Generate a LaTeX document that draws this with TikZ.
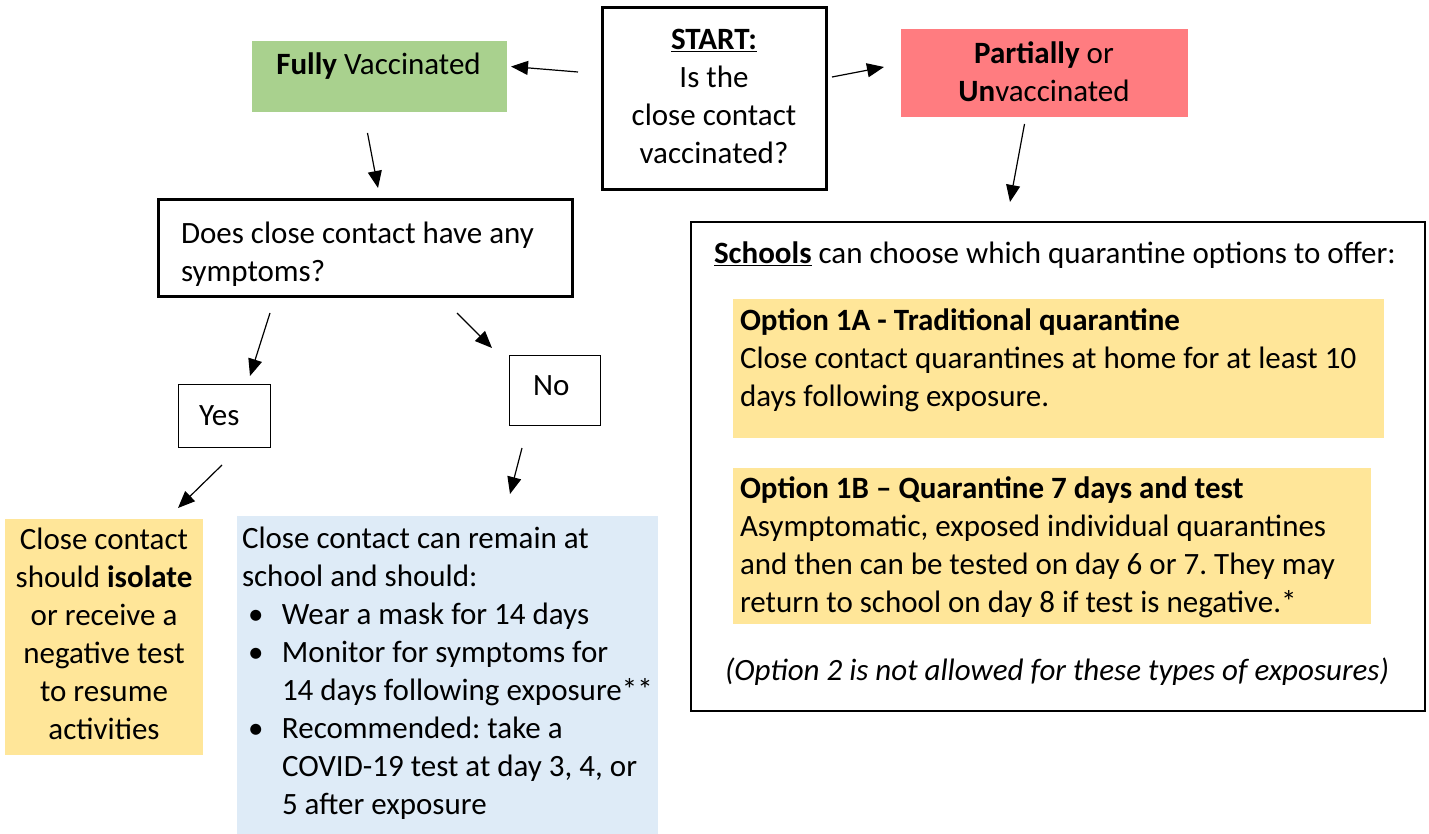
\documentclass[tikz,border=0pt]{standalone}
\usepackage{fontspec}
\setmainfont{Carlito}
\usetikzlibrary{arrows.meta}
\definecolor{vgreen}{HTML}{A9D18E}
\definecolor{vred}{HTML}{FF7C80}
\definecolor{vyellow}{HTML}{FFE699}
\definecolor{vblue}{HTML}{DEEBF7}
\newcommand\mystrut{\rule{0pt}{28pt}}
\frenchspacing
\begin{document}
\begin{tikzpicture}[x=1pt,y=-1pt,
  every node/.style={inner sep=0pt,outer sep=0pt,font=\fontsize{31}{38}\selectfont\frenchspacing},
  box/.style={anchor=north west,inner sep=0pt,outer sep=0pt},
  thickbox/.style={box,draw=black,line width=3pt},
  thinbox/.style={box,draw=black,line width=1pt},
  arr/.style={line width=1.2pt,-{Triangle[length=17pt,width=14pt]}},
  txt/.style={anchor=north west,align=left},
  ctxt/.style={anchor=north,align=center}]
\useasboundingbox (0,0) rectangle (1429,834);
% boxes
\node[thickbox,minimum width=224pt,minimum height=182pt] (start) at (602,8) {};
\node[box,fill=vgreen,minimum width=255pt,minimum height=71pt] (fully) at (252,41) {};
\node[box,fill=vred,minimum width=287pt,minimum height=88pt] (partial) at (901,29) {};
\node[thickbox,minimum width=414pt,minimum height=96pt] (does) at (158,200) {};
\node[thinbox,minimum width=92pt,minimum height=63pt] (yes) at (178,384) {};
\node[thinbox,minimum width=91pt,minimum height=70pt] (no) at (509,355) {};
\node[box,fill=vyellow,minimum width=198pt,minimum height=236pt] (iso) at (5,519) {};
\node[box,fill=vblue,minimum width=421pt,minimum height=320pt] (stay) at (237,516) {};
\node[box,draw=black,line width=1.5pt,minimum width=734pt,minimum height=489pt] (schools) at (691,222) {};
\node[box,fill=vyellow,minimum width=651pt,minimum height=139pt] (opta) at (733,299) {};
\node[box,fill=vyellow,minimum width=638pt,minimum height=156pt] (optb) at (733,468) {};
% texts
\node[ctxt] (startT) at (714,22) {\mystrut\underline{\textbf{START:}}\\Is the\\close contact\\vaccinated?};
\node[ctxt] (fullyT) at (378.5,47) {\mystrut\textbf{Fully} Vaccinated};
\node[ctxt] (partialT) at (1044,36) {\mystrut\textbf{Partially} or\\\textbf{Un}vaccinated};
\node[txt] (doesT) at (181,216) {\mystrut Does close contact have any\\symptoms?};
\node[txt] (yesT) at (199,397) {\mystrut Yes};
\node[txt] (noT) at (533,367) {\mystrut No};
\node[ctxt] (isoT) at (104,521) {\mystrut Close contact\\should \textbf{isolate}\\or receive a\\negative test\\to resume\\activities};
\node[txt] (stayT) at (242,520) {\mystrut Close contact can remain at\\school and should:\\
\makebox[40pt][l]{\hspace{6pt}\textbullet}Wear a mask for 14 days\\
\makebox[40pt][l]{\hspace{6pt}\textbullet}Monitor for symptoms for\\
\hspace*{40pt}14 days following exposure**\\
\makebox[40pt][l]{\hspace{6pt}\textbullet}Recommended: take a\\
\hspace*{40pt}COVID-19 test at day 3, 4, or\\
\hspace*{40pt}5 after exposure};
\node[txt] (schoolsT) at (714,236) {\mystrut\underline{\textbf{Schools}} can choose which quarantine options to offer:};
\node[txt] (optaT) at (740,302) {\mystrut\textbf{Option 1A - Traditional quarantine}\\Close contact quarantines at home for at least 10\\days following exposure.};
\node[txt] (optbT) at (740,470) {\mystrut\textbf{Option 1B -- Quarantine 7 days and test}\\Asymptomatic, exposed individual quarantines\\and then can be tested on day 6 or 7. They may\\return to school on day 8 if test is negative.*};
\node[ctxt] (opt2T) at (1057,652) {\mystrut\textit{(Option 2 is not allowed for these types of exposures)}};
% arrows
\draw[arr] ([shift={(-24,-27)}]start.west) -- ([shift={(4,-10)}]fully.east);
\draw[arr] ([shift={(6,-22)}]start.east) -- ([shift={(-17,-6)}]partial.west);
\draw[arr] ([shift={(-12,21)}]fully.south) -- ([shift={(13,-12)}]does.north);
\draw[arr] ([shift={(-95,17)}]does.south) -- ([shift={(26,-8)}]yes.north);
\draw[arr] ([shift={(92,17)}]does.south) -- ([shift={(-62.5,-7)}]no.north);
\draw[arr] ([shift={(-2,18)}]yes.south) -- ([shift={(74,-11)}]iso.north);
\draw[arr] ([shift={(-32.5,23)}]no.south) -- ([shift={(62.5,-22)}]stay.north);
\draw[arr] ([shift={(-20,7)}]partial.south) -- ([shift={(-48,-20)}]schools.north);
\end{tikzpicture}
\end{document}
